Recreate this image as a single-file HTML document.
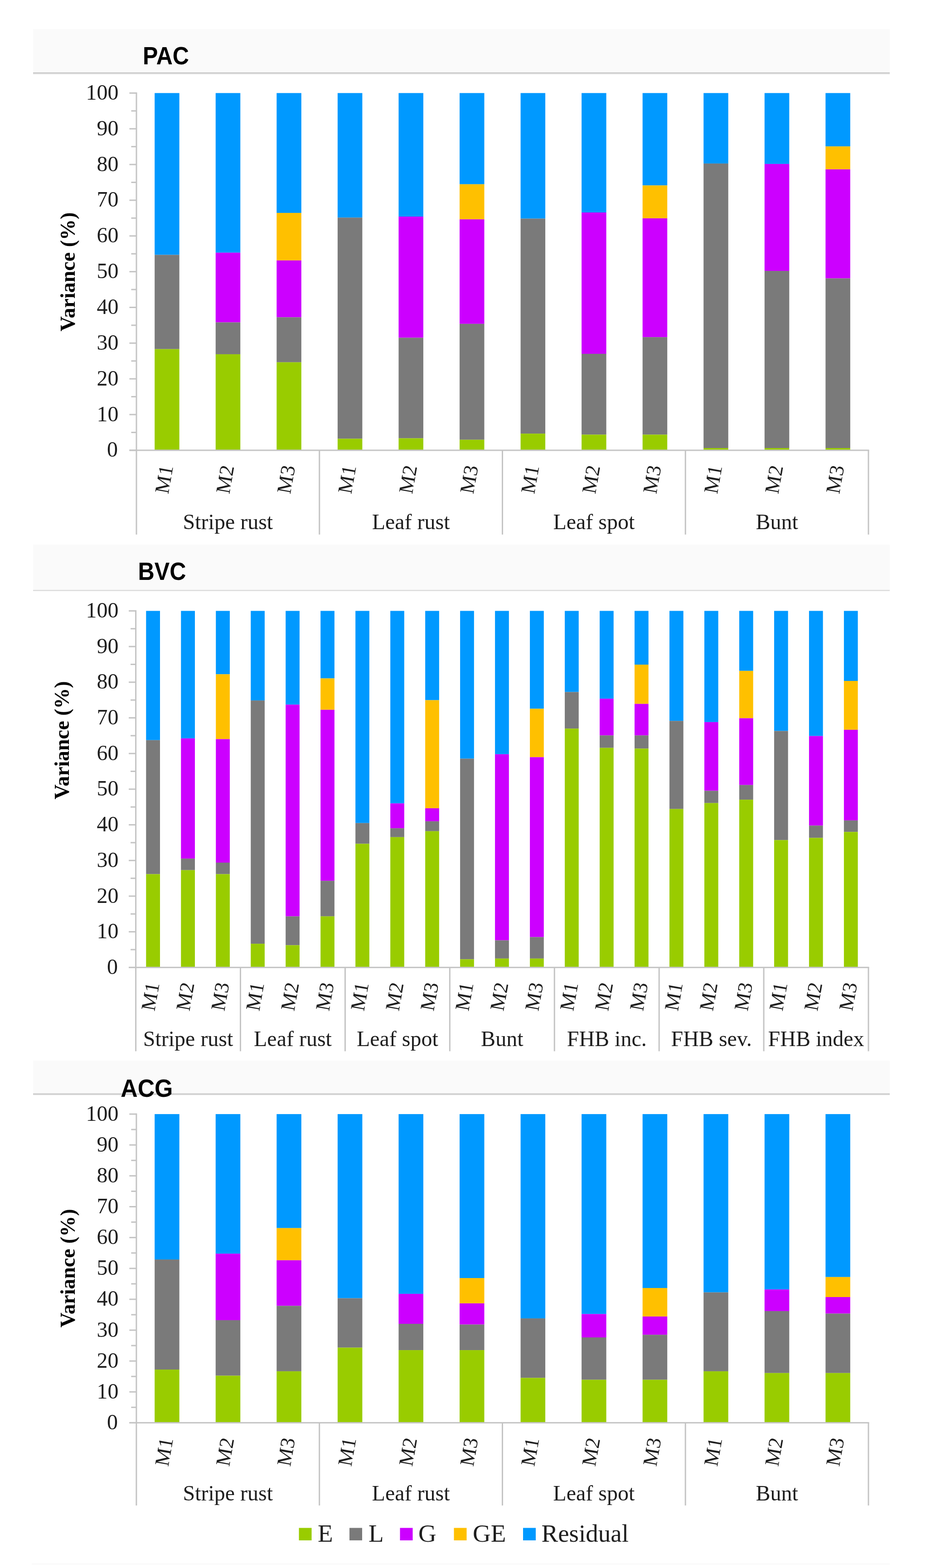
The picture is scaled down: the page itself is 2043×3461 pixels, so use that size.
<!DOCTYPE html>
<html><head><meta charset="utf-8"><title>Variance components</title>
<style>html,body{margin:0;padding:0;background:#fff;}svg{display:block;}</style></head>
<body><svg width="2043" height="3461" viewBox="0 0 2043 3461">
<rect width="2043" height="3461" fill="#FFFFFF"/>
<rect x="73" y="64.3" width="1890" height="97" fill="#FAFAFA"/>
<rect x="73" y="159.8" width="1890" height="2" fill="#C2C2C2"/>
<rect x="73" y="161.8" width="1890" height="2" fill="#DCDCDC"/>
<text x="315" y="142" font-family="Liberation Sans, sans-serif" font-weight="bold" font-size="55.5" textLength="102" lengthAdjust="spacingAndGlyphs" fill="#000">PAC</text>
<rect x="341.2" y="205.4" width="54.5" height="357.15" fill="#0099FF"/>
<rect x="341.2" y="562.55" width="54.5" height="208.09" fill="#7A7A7A"/>
<rect x="341.2" y="770.64" width="54.5" height="223.26" fill="#99CC00"/>
<rect x="475.76" y="205.4" width="54.5" height="352.31" fill="#0099FF"/>
<rect x="475.76" y="557.71" width="54.5" height="153.89" fill="#CC00FF"/>
<rect x="475.76" y="711.6" width="54.5" height="70.33" fill="#7A7A7A"/>
<rect x="475.76" y="781.93" width="54.5" height="211.97" fill="#99CC00"/>
<rect x="610.32" y="205.4" width="54.5" height="264.55" fill="#0099FF"/>
<rect x="610.32" y="469.95" width="54.5" height="104.85" fill="#FFC000"/>
<rect x="610.32" y="574.81" width="54.5" height="125.5" fill="#CC00FF"/>
<rect x="610.32" y="700.31" width="54.5" height="99.37" fill="#7A7A7A"/>
<rect x="610.32" y="799.68" width="54.5" height="194.22" fill="#99CC00"/>
<rect x="744.88" y="205.4" width="54.5" height="274.88" fill="#0099FF"/>
<rect x="744.88" y="480.28" width="54.5" height="488.13" fill="#7A7A7A"/>
<rect x="744.88" y="968.41" width="54.5" height="25.49" fill="#99CC00"/>
<rect x="879.44" y="205.4" width="54.5" height="272.62" fill="#0099FF"/>
<rect x="879.44" y="478.02" width="54.5" height="267.46" fill="#CC00FF"/>
<rect x="879.44" y="745.48" width="54.5" height="221.97" fill="#7A7A7A"/>
<rect x="879.44" y="967.44" width="54.5" height="26.46" fill="#99CC00"/>
<rect x="1014" y="205.4" width="54.5" height="201.32" fill="#0099FF"/>
<rect x="1014" y="406.72" width="54.5" height="77.43" fill="#FFC000"/>
<rect x="1014" y="484.15" width="54.5" height="230.68" fill="#CC00FF"/>
<rect x="1014" y="714.83" width="54.5" height="255.84" fill="#7A7A7A"/>
<rect x="1014" y="970.67" width="54.5" height="23.23" fill="#99CC00"/>
<rect x="1148.56" y="205.4" width="54.5" height="277.14" fill="#0099FF"/>
<rect x="1148.56" y="482.54" width="54.5" height="474.58" fill="#7A7A7A"/>
<rect x="1148.56" y="957.12" width="54.5" height="36.78" fill="#99CC00"/>
<rect x="1283.12" y="205.4" width="54.5" height="263.59" fill="#0099FF"/>
<rect x="1283.12" y="468.99" width="54.5" height="311.98" fill="#CC00FF"/>
<rect x="1283.12" y="780.97" width="54.5" height="178.41" fill="#7A7A7A"/>
<rect x="1283.12" y="959.38" width="54.5" height="34.52" fill="#99CC00"/>
<rect x="1417.68" y="205.4" width="54.5" height="203.9" fill="#0099FF"/>
<rect x="1417.68" y="409.3" width="54.5" height="72.59" fill="#FFC000"/>
<rect x="1417.68" y="481.89" width="54.5" height="262.3" fill="#CC00FF"/>
<rect x="1417.68" y="744.19" width="54.5" height="215.19" fill="#7A7A7A"/>
<rect x="1417.68" y="959.38" width="54.5" height="34.52" fill="#99CC00"/>
<rect x="1552.24" y="205.4" width="54.5" height="155.51" fill="#0099FF"/>
<rect x="1552.24" y="360.91" width="54.5" height="628.15" fill="#7A7A7A"/>
<rect x="1552.24" y="989.06" width="54.5" height="4.84" fill="#99CC00"/>
<rect x="1686.8" y="205.4" width="54.5" height="156.47" fill="#0099FF"/>
<rect x="1686.8" y="361.87" width="54.5" height="236.16" fill="#CC00FF"/>
<rect x="1686.8" y="598.04" width="54.5" height="391.02" fill="#7A7A7A"/>
<rect x="1686.8" y="989.06" width="54.5" height="4.84" fill="#99CC00"/>
<rect x="1821.36" y="205.4" width="54.5" height="117.76" fill="#0099FF"/>
<rect x="1821.36" y="323.16" width="54.5" height="50.65" fill="#FFC000"/>
<rect x="1821.36" y="373.81" width="54.5" height="240.68" fill="#CC00FF"/>
<rect x="1821.36" y="614.49" width="54.5" height="374.57" fill="#7A7A7A"/>
<rect x="1821.36" y="989.06" width="54.5" height="4.84" fill="#99CC00"/>
<rect x="285.5" y="992.4" width="15.5" height="3" fill="#C4C4C4"/>
<text x="260" y="1008.4" text-anchor="end" font-family="Liberation Serif, serif" font-size="48" fill="#1E1E1E">0</text>
<rect x="289.5" y="952.98" width="11.5" height="3" fill="#C4C4C4"/>
<rect x="285.5" y="913.55" width="15.5" height="3" fill="#C4C4C4"/>
<text x="261.5" y="929.55" text-anchor="end" font-family="Liberation Serif, serif" font-size="48" fill="#1E1E1E">10</text>
<rect x="289.5" y="874.12" width="11.5" height="3" fill="#C4C4C4"/>
<rect x="285.5" y="834.7" width="15.5" height="3" fill="#C4C4C4"/>
<text x="261.5" y="850.7" text-anchor="end" font-family="Liberation Serif, serif" font-size="48" fill="#1E1E1E">20</text>
<rect x="289.5" y="795.27" width="11.5" height="3" fill="#C4C4C4"/>
<rect x="285.5" y="755.85" width="15.5" height="3" fill="#C4C4C4"/>
<text x="261.5" y="771.85" text-anchor="end" font-family="Liberation Serif, serif" font-size="48" fill="#1E1E1E">30</text>
<rect x="289.5" y="716.42" width="11.5" height="3" fill="#C4C4C4"/>
<rect x="285.5" y="677" width="15.5" height="3" fill="#C4C4C4"/>
<text x="261.5" y="693" text-anchor="end" font-family="Liberation Serif, serif" font-size="48" fill="#1E1E1E">40</text>
<rect x="289.5" y="637.58" width="11.5" height="3" fill="#C4C4C4"/>
<rect x="285.5" y="598.15" width="15.5" height="3" fill="#C4C4C4"/>
<text x="261.5" y="614.15" text-anchor="end" font-family="Liberation Serif, serif" font-size="48" fill="#1E1E1E">50</text>
<rect x="289.5" y="558.72" width="11.5" height="3" fill="#C4C4C4"/>
<rect x="285.5" y="519.3" width="15.5" height="3" fill="#C4C4C4"/>
<text x="261.5" y="535.3" text-anchor="end" font-family="Liberation Serif, serif" font-size="48" fill="#1E1E1E">60</text>
<rect x="289.5" y="479.88" width="11.5" height="3" fill="#C4C4C4"/>
<rect x="285.5" y="440.45" width="15.5" height="3" fill="#C4C4C4"/>
<text x="261.5" y="456.45" text-anchor="end" font-family="Liberation Serif, serif" font-size="48" fill="#1E1E1E">70</text>
<rect x="289.5" y="401.02" width="11.5" height="3" fill="#C4C4C4"/>
<rect x="285.5" y="361.6" width="15.5" height="3" fill="#C4C4C4"/>
<text x="261.5" y="377.6" text-anchor="end" font-family="Liberation Serif, serif" font-size="48" fill="#1E1E1E">80</text>
<rect x="289.5" y="322.17" width="11.5" height="3" fill="#C4C4C4"/>
<rect x="285.5" y="282.75" width="15.5" height="3" fill="#C4C4C4"/>
<text x="261.5" y="298.75" text-anchor="end" font-family="Liberation Serif, serif" font-size="48" fill="#1E1E1E">90</text>
<rect x="289.5" y="243.32" width="11.5" height="3" fill="#C4C4C4"/>
<rect x="285.5" y="203.9" width="15.5" height="3" fill="#C4C4C4"/>
<text x="261.5" y="219.9" text-anchor="end" font-family="Liberation Serif, serif" font-size="48" fill="#1E1E1E">100</text>
<rect x="299.5" y="203.9" width="3" height="976" fill="#C4C4C4"/>
<rect x="285.5" y="992.4" width="1632" height="3" fill="#C4C4C4"/>
<rect x="703.25" y="993.9" width="3" height="186" fill="#C4C4C4"/>
<rect x="1107" y="993.9" width="3" height="186" fill="#C4C4C4"/>
<rect x="1510.75" y="993.9" width="3" height="186" fill="#C4C4C4"/>
<rect x="1914.5" y="993.9" width="3" height="186" fill="#C4C4C4"/>
<text transform="translate(371.29,1091.4) rotate(-80)" font-family="Liberation Serif, serif" font-size="45" fill="#1E1E1E">M1</text>
<text transform="translate(505.88,1091.4) rotate(-80)" font-family="Liberation Serif, serif" font-size="45" fill="#1E1E1E">M2</text>
<text transform="translate(640.46,1091.4) rotate(-80)" font-family="Liberation Serif, serif" font-size="45" fill="#1E1E1E">M3</text>
<text transform="translate(775.04,1091.4) rotate(-80)" font-family="Liberation Serif, serif" font-size="45" fill="#1E1E1E">M1</text>
<text transform="translate(909.62,1091.4) rotate(-80)" font-family="Liberation Serif, serif" font-size="45" fill="#1E1E1E">M2</text>
<text transform="translate(1044.21,1091.4) rotate(-80)" font-family="Liberation Serif, serif" font-size="45" fill="#1E1E1E">M3</text>
<text transform="translate(1178.79,1091.4) rotate(-80)" font-family="Liberation Serif, serif" font-size="45" fill="#1E1E1E">M1</text>
<text transform="translate(1313.38,1091.4) rotate(-80)" font-family="Liberation Serif, serif" font-size="45" fill="#1E1E1E">M2</text>
<text transform="translate(1447.96,1091.4) rotate(-80)" font-family="Liberation Serif, serif" font-size="45" fill="#1E1E1E">M3</text>
<text transform="translate(1582.54,1091.4) rotate(-80)" font-family="Liberation Serif, serif" font-size="45" fill="#1E1E1E">M1</text>
<text transform="translate(1717.12,1091.4) rotate(-80)" font-family="Liberation Serif, serif" font-size="45" fill="#1E1E1E">M2</text>
<text transform="translate(1851.71,1091.4) rotate(-80)" font-family="Liberation Serif, serif" font-size="45" fill="#1E1E1E">M3</text>
<text x="502.88" y="1168.1" text-anchor="middle" font-family="Liberation Serif, serif" font-size="48" fill="#1E1E1E">Stripe rust</text>
<text x="906.62" y="1168.1" text-anchor="middle" font-family="Liberation Serif, serif" font-size="48" fill="#1E1E1E">Leaf rust</text>
<text x="1310.38" y="1168.1" text-anchor="middle" font-family="Liberation Serif, serif" font-size="48" fill="#1E1E1E">Leaf spot</text>
<text x="1714.12" y="1168.1" text-anchor="middle" font-family="Liberation Serif, serif" font-size="48" fill="#1E1E1E">Bunt</text>
<text transform="translate(165,731.5) rotate(-90)" font-family="Liberation Serif, serif" font-weight="bold" font-size="47" textLength="262.9" lengthAdjust="spacingAndGlyphs" fill="#000">Variance (%)</text>
<rect x="73" y="1202.3" width="1890" height="101" fill="#FAFAFA"/>
<rect x="73" y="1302.1" width="1890" height="2.4" fill="#DADADA"/>
<text x="304.5" y="1280" font-family="Liberation Sans, sans-serif" font-weight="bold" font-size="55.5" textLength="106" lengthAdjust="spacingAndGlyphs" fill="#000">BVC</text>
<rect x="322.3" y="1348.4" width="30.7" height="285.32" fill="#0099FF"/>
<rect x="322.3" y="1633.72" width="30.7" height="295.78" fill="#7A7A7A"/>
<rect x="322.3" y="1929.5" width="30.7" height="205.9" fill="#99CC00"/>
<rect x="399.28" y="1348.4" width="30.7" height="281.4" fill="#0099FF"/>
<rect x="399.28" y="1629.8" width="30.7" height="265.38" fill="#CC00FF"/>
<rect x="399.28" y="1895.18" width="30.7" height="25.49" fill="#7A7A7A"/>
<rect x="399.28" y="1920.67" width="30.7" height="214.73" fill="#99CC00"/>
<rect x="476.26" y="1348.4" width="30.7" height="139.88" fill="#0099FF"/>
<rect x="476.26" y="1488.28" width="30.7" height="143.15" fill="#FFC000"/>
<rect x="476.26" y="1631.43" width="30.7" height="272.57" fill="#CC00FF"/>
<rect x="476.26" y="1904.01" width="30.7" height="25.49" fill="#7A7A7A"/>
<rect x="476.26" y="1929.5" width="30.7" height="205.9" fill="#99CC00"/>
<rect x="553.24" y="1348.4" width="30.7" height="197.73" fill="#0099FF"/>
<rect x="553.24" y="1546.13" width="30.7" height="536.98" fill="#7A7A7A"/>
<rect x="553.24" y="2083.11" width="30.7" height="52.29" fill="#99CC00"/>
<rect x="630.22" y="1348.4" width="30.7" height="206.88" fill="#0099FF"/>
<rect x="630.22" y="1555.28" width="30.7" height="467.36" fill="#CC00FF"/>
<rect x="630.22" y="2022.64" width="30.7" height="63.73" fill="#7A7A7A"/>
<rect x="630.22" y="2086.38" width="30.7" height="49.02" fill="#99CC00"/>
<rect x="707.2" y="1348.4" width="30.7" height="149.03" fill="#0099FF"/>
<rect x="707.2" y="1497.43" width="30.7" height="69.29" fill="#FFC000"/>
<rect x="707.2" y="1566.72" width="30.7" height="377.49" fill="#CC00FF"/>
<rect x="707.2" y="1944.21" width="30.7" height="78.44" fill="#7A7A7A"/>
<rect x="707.2" y="2022.64" width="30.7" height="112.76" fill="#99CC00"/>
<rect x="784.18" y="1348.4" width="30.7" height="468.34" fill="#0099FF"/>
<rect x="784.18" y="1816.74" width="30.7" height="45.76" fill="#7A7A7A"/>
<rect x="784.18" y="1862.5" width="30.7" height="272.9" fill="#99CC00"/>
<rect x="861.16" y="1348.4" width="30.7" height="424.88" fill="#0099FF"/>
<rect x="861.16" y="1773.28" width="30.7" height="54.91" fill="#CC00FF"/>
<rect x="861.16" y="1828.18" width="30.7" height="19.61" fill="#7A7A7A"/>
<rect x="861.16" y="1847.79" width="30.7" height="287.61" fill="#99CC00"/>
<rect x="938.14" y="1348.4" width="30.7" height="197.08" fill="#0099FF"/>
<rect x="938.14" y="1545.48" width="30.7" height="238.58" fill="#FFC000"/>
<rect x="938.14" y="1784.06" width="30.7" height="28.76" fill="#CC00FF"/>
<rect x="938.14" y="1812.82" width="30.7" height="21.9" fill="#7A7A7A"/>
<rect x="938.14" y="1834.72" width="30.7" height="300.68" fill="#99CC00"/>
<rect x="1015.12" y="1348.4" width="30.7" height="326.17" fill="#0099FF"/>
<rect x="1015.12" y="1674.57" width="30.7" height="442.85" fill="#7A7A7A"/>
<rect x="1015.12" y="2117.42" width="30.7" height="17.98" fill="#99CC00"/>
<rect x="1092.1" y="1348.4" width="30.7" height="316.37" fill="#0099FF"/>
<rect x="1092.1" y="1664.77" width="30.7" height="410.82" fill="#CC00FF"/>
<rect x="1092.1" y="2075.59" width="30.7" height="40.2" fill="#7A7A7A"/>
<rect x="1092.1" y="2115.79" width="30.7" height="19.61" fill="#99CC00"/>
<rect x="1169.08" y="1348.4" width="30.7" height="216.03" fill="#0099FF"/>
<rect x="1169.08" y="1564.43" width="30.7" height="106.87" fill="#FFC000"/>
<rect x="1169.08" y="1671.31" width="30.7" height="397.1" fill="#CC00FF"/>
<rect x="1169.08" y="2068.4" width="30.7" height="47.39" fill="#7A7A7A"/>
<rect x="1169.08" y="2115.79" width="30.7" height="19.61" fill="#99CC00"/>
<rect x="1246.06" y="1348.4" width="30.7" height="179.1" fill="#0099FF"/>
<rect x="1246.06" y="1527.5" width="30.7" height="80.73" fill="#7A7A7A"/>
<rect x="1246.06" y="1608.23" width="30.7" height="527.17" fill="#99CC00"/>
<rect x="1323.04" y="1348.4" width="30.7" height="193.81" fill="#0099FF"/>
<rect x="1323.04" y="1542.21" width="30.7" height="81.05" fill="#CC00FF"/>
<rect x="1323.04" y="1623.26" width="30.7" height="27.45" fill="#7A7A7A"/>
<rect x="1323.04" y="1650.72" width="30.7" height="484.68" fill="#99CC00"/>
<rect x="1400.02" y="1348.4" width="30.7" height="118.64" fill="#0099FF"/>
<rect x="1400.02" y="1467.04" width="30.7" height="86.61" fill="#FFC000"/>
<rect x="1400.02" y="1553.65" width="30.7" height="69.61" fill="#CC00FF"/>
<rect x="1400.02" y="1623.26" width="30.7" height="29.09" fill="#7A7A7A"/>
<rect x="1400.02" y="1652.35" width="30.7" height="483.05" fill="#99CC00"/>
<rect x="1477" y="1348.4" width="30.7" height="242.83" fill="#0099FF"/>
<rect x="1477" y="1591.23" width="30.7" height="194.46" fill="#7A7A7A"/>
<rect x="1477" y="1785.69" width="30.7" height="349.71" fill="#99CC00"/>
<rect x="1553.98" y="1348.4" width="30.7" height="245.45" fill="#0099FF"/>
<rect x="1553.98" y="1593.85" width="30.7" height="151.65" fill="#CC00FF"/>
<rect x="1553.98" y="1745.5" width="30.7" height="27.13" fill="#7A7A7A"/>
<rect x="1553.98" y="1772.62" width="30.7" height="362.78" fill="#99CC00"/>
<rect x="1630.96" y="1348.4" width="30.7" height="132.37" fill="#0099FF"/>
<rect x="1630.96" y="1480.77" width="30.7" height="104.58" fill="#FFC000"/>
<rect x="1630.96" y="1585.35" width="30.7" height="147.4" fill="#CC00FF"/>
<rect x="1630.96" y="1732.75" width="30.7" height="32.36" fill="#7A7A7A"/>
<rect x="1630.96" y="1765.1" width="30.7" height="370.3" fill="#99CC00"/>
<rect x="1707.94" y="1348.4" width="30.7" height="265.06" fill="#0099FF"/>
<rect x="1707.94" y="1613.46" width="30.7" height="240.87" fill="#7A7A7A"/>
<rect x="1707.94" y="1854.33" width="30.7" height="281.07" fill="#99CC00"/>
<rect x="1784.92" y="1348.4" width="30.7" height="276.17" fill="#0099FF"/>
<rect x="1784.92" y="1624.57" width="30.7" height="197.73" fill="#CC00FF"/>
<rect x="1784.92" y="1822.3" width="30.7" height="27.13" fill="#7A7A7A"/>
<rect x="1784.92" y="1849.43" width="30.7" height="285.97" fill="#99CC00"/>
<rect x="1861.9" y="1348.4" width="30.7" height="154.59" fill="#0099FF"/>
<rect x="1861.9" y="1502.99" width="30.7" height="107.85" fill="#FFC000"/>
<rect x="1861.9" y="1610.84" width="30.7" height="200.02" fill="#CC00FF"/>
<rect x="1861.9" y="1810.86" width="30.7" height="25.49" fill="#7A7A7A"/>
<rect x="1861.9" y="1836.35" width="30.7" height="299.05" fill="#99CC00"/>
<rect x="284.1" y="2133.9" width="15.5" height="3" fill="#C4C4C4"/>
<text x="260" y="2149.9" text-anchor="end" font-family="Liberation Serif, serif" font-size="48" fill="#1E1E1E">0</text>
<rect x="288.1" y="2094.55" width="11.5" height="3" fill="#C4C4C4"/>
<rect x="284.1" y="2055.2" width="15.5" height="3" fill="#C4C4C4"/>
<text x="261.5" y="2071.2" text-anchor="end" font-family="Liberation Serif, serif" font-size="48" fill="#1E1E1E">10</text>
<rect x="288.1" y="2015.85" width="11.5" height="3" fill="#C4C4C4"/>
<rect x="284.1" y="1976.5" width="15.5" height="3" fill="#C4C4C4"/>
<text x="261.5" y="1992.5" text-anchor="end" font-family="Liberation Serif, serif" font-size="48" fill="#1E1E1E">20</text>
<rect x="288.1" y="1937.15" width="11.5" height="3" fill="#C4C4C4"/>
<rect x="284.1" y="1897.8" width="15.5" height="3" fill="#C4C4C4"/>
<text x="261.5" y="1913.8" text-anchor="end" font-family="Liberation Serif, serif" font-size="48" fill="#1E1E1E">30</text>
<rect x="288.1" y="1858.45" width="11.5" height="3" fill="#C4C4C4"/>
<rect x="284.1" y="1819.1" width="15.5" height="3" fill="#C4C4C4"/>
<text x="261.5" y="1835.1" text-anchor="end" font-family="Liberation Serif, serif" font-size="48" fill="#1E1E1E">40</text>
<rect x="288.1" y="1779.75" width="11.5" height="3" fill="#C4C4C4"/>
<rect x="284.1" y="1740.4" width="15.5" height="3" fill="#C4C4C4"/>
<text x="261.5" y="1756.4" text-anchor="end" font-family="Liberation Serif, serif" font-size="48" fill="#1E1E1E">50</text>
<rect x="288.1" y="1701.05" width="11.5" height="3" fill="#C4C4C4"/>
<rect x="284.1" y="1661.7" width="15.5" height="3" fill="#C4C4C4"/>
<text x="261.5" y="1677.7" text-anchor="end" font-family="Liberation Serif, serif" font-size="48" fill="#1E1E1E">60</text>
<rect x="288.1" y="1622.35" width="11.5" height="3" fill="#C4C4C4"/>
<rect x="284.1" y="1583" width="15.5" height="3" fill="#C4C4C4"/>
<text x="261.5" y="1599" text-anchor="end" font-family="Liberation Serif, serif" font-size="48" fill="#1E1E1E">70</text>
<rect x="288.1" y="1543.65" width="11.5" height="3" fill="#C4C4C4"/>
<rect x="284.1" y="1504.3" width="15.5" height="3" fill="#C4C4C4"/>
<text x="261.5" y="1520.3" text-anchor="end" font-family="Liberation Serif, serif" font-size="48" fill="#1E1E1E">80</text>
<rect x="288.1" y="1464.95" width="11.5" height="3" fill="#C4C4C4"/>
<rect x="284.1" y="1425.6" width="15.5" height="3" fill="#C4C4C4"/>
<text x="261.5" y="1441.6" text-anchor="end" font-family="Liberation Serif, serif" font-size="48" fill="#1E1E1E">90</text>
<rect x="288.1" y="1386.25" width="11.5" height="3" fill="#C4C4C4"/>
<rect x="284.1" y="1346.9" width="15.5" height="3" fill="#C4C4C4"/>
<text x="261.5" y="1362.9" text-anchor="end" font-family="Liberation Serif, serif" font-size="48" fill="#1E1E1E">100</text>
<rect x="298.1" y="1346.9" width="3" height="973.5" fill="#C4C4C4"/>
<rect x="284.1" y="2133.9" width="1633.4" height="3" fill="#C4C4C4"/>
<rect x="529.01" y="2135.4" width="3" height="185" fill="#C4C4C4"/>
<rect x="759.93" y="2135.4" width="3" height="185" fill="#C4C4C4"/>
<rect x="990.84" y="2135.4" width="3" height="185" fill="#C4C4C4"/>
<rect x="1221.76" y="2135.4" width="3" height="185" fill="#C4C4C4"/>
<rect x="1452.67" y="2135.4" width="3" height="185" fill="#C4C4C4"/>
<rect x="1683.59" y="2135.4" width="3" height="185" fill="#C4C4C4"/>
<rect x="1914.5" y="2135.4" width="3" height="185" fill="#C4C4C4"/>
<text transform="translate(341.09,2232.9) rotate(-80)" font-family="Liberation Serif, serif" font-size="45" fill="#1E1E1E">M1</text>
<text transform="translate(418.06,2232.9) rotate(-80)" font-family="Liberation Serif, serif" font-size="45" fill="#1E1E1E">M2</text>
<text transform="translate(495.03,2232.9) rotate(-80)" font-family="Liberation Serif, serif" font-size="45" fill="#1E1E1E">M3</text>
<text transform="translate(572,2232.9) rotate(-80)" font-family="Liberation Serif, serif" font-size="45" fill="#1E1E1E">M1</text>
<text transform="translate(648.97,2232.9) rotate(-80)" font-family="Liberation Serif, serif" font-size="45" fill="#1E1E1E">M2</text>
<text transform="translate(725.94,2232.9) rotate(-80)" font-family="Liberation Serif, serif" font-size="45" fill="#1E1E1E">M3</text>
<text transform="translate(802.91,2232.9) rotate(-80)" font-family="Liberation Serif, serif" font-size="45" fill="#1E1E1E">M1</text>
<text transform="translate(879.89,2232.9) rotate(-80)" font-family="Liberation Serif, serif" font-size="45" fill="#1E1E1E">M2</text>
<text transform="translate(956.86,2232.9) rotate(-80)" font-family="Liberation Serif, serif" font-size="45" fill="#1E1E1E">M3</text>
<text transform="translate(1033.83,2232.9) rotate(-80)" font-family="Liberation Serif, serif" font-size="45" fill="#1E1E1E">M1</text>
<text transform="translate(1110.8,2232.9) rotate(-80)" font-family="Liberation Serif, serif" font-size="45" fill="#1E1E1E">M2</text>
<text transform="translate(1187.77,2232.9) rotate(-80)" font-family="Liberation Serif, serif" font-size="45" fill="#1E1E1E">M3</text>
<text transform="translate(1264.74,2232.9) rotate(-80)" font-family="Liberation Serif, serif" font-size="45" fill="#1E1E1E">M1</text>
<text transform="translate(1341.71,2232.9) rotate(-80)" font-family="Liberation Serif, serif" font-size="45" fill="#1E1E1E">M2</text>
<text transform="translate(1418.69,2232.9) rotate(-80)" font-family="Liberation Serif, serif" font-size="45" fill="#1E1E1E">M3</text>
<text transform="translate(1495.66,2232.9) rotate(-80)" font-family="Liberation Serif, serif" font-size="45" fill="#1E1E1E">M1</text>
<text transform="translate(1572.63,2232.9) rotate(-80)" font-family="Liberation Serif, serif" font-size="45" fill="#1E1E1E">M2</text>
<text transform="translate(1649.6,2232.9) rotate(-80)" font-family="Liberation Serif, serif" font-size="45" fill="#1E1E1E">M3</text>
<text transform="translate(1726.57,2232.9) rotate(-80)" font-family="Liberation Serif, serif" font-size="45" fill="#1E1E1E">M1</text>
<text transform="translate(1803.54,2232.9) rotate(-80)" font-family="Liberation Serif, serif" font-size="45" fill="#1E1E1E">M2</text>
<text transform="translate(1880.51,2232.9) rotate(-80)" font-family="Liberation Serif, serif" font-size="45" fill="#1E1E1E">M3</text>
<text x="415.06" y="2308.7" text-anchor="middle" font-family="Liberation Serif, serif" font-size="48" fill="#1E1E1E">Stripe rust</text>
<text x="645.97" y="2308.7" text-anchor="middle" font-family="Liberation Serif, serif" font-size="48" fill="#1E1E1E">Leaf rust</text>
<text x="876.89" y="2308.7" text-anchor="middle" font-family="Liberation Serif, serif" font-size="48" fill="#1E1E1E">Leaf spot</text>
<text x="1107.8" y="2308.7" text-anchor="middle" font-family="Liberation Serif, serif" font-size="48" fill="#1E1E1E">Bunt</text>
<text x="1338.71" y="2308.7" text-anchor="middle" font-family="Liberation Serif, serif" font-size="48" fill="#1E1E1E">FHB inc.</text>
<text x="1569.63" y="2308.7" text-anchor="middle" font-family="Liberation Serif, serif" font-size="48" fill="#1E1E1E">FHB sev.</text>
<text x="1800.54" y="2308.7" text-anchor="middle" font-family="Liberation Serif, serif" font-size="48" fill="#1E1E1E">FHB index</text>
<text transform="translate(151.6,1764.5) rotate(-90)" font-family="Liberation Serif, serif" font-weight="bold" font-size="47" textLength="261" lengthAdjust="spacingAndGlyphs" fill="#000">Variance (%)</text>
<rect x="73" y="2341.2" width="1890" height="73.8" fill="#FAFAFA"/>
<rect x="73" y="2413" width="1890" height="4" fill="#D3D3D3"/>
<text x="266.3" y="2421.3" font-family="Liberation Sans, sans-serif" font-weight="bold" font-size="55.5" textLength="115.1" lengthAdjust="spacingAndGlyphs" fill="#000">ACG</text>
<rect x="341.2" y="2459.1" width="54.5" height="320.97" fill="#0099FF"/>
<rect x="341.2" y="2780.07" width="54.5" height="242.91" fill="#7A7A7A"/>
<rect x="341.2" y="3022.98" width="54.5" height="117.42" fill="#99CC00"/>
<rect x="475.76" y="2459.1" width="54.5" height="308.07" fill="#0099FF"/>
<rect x="475.76" y="2767.17" width="54.5" height="146.78" fill="#CC00FF"/>
<rect x="475.76" y="2913.95" width="54.5" height="122.58" fill="#7A7A7A"/>
<rect x="475.76" y="3036.53" width="54.5" height="103.87" fill="#99CC00"/>
<rect x="610.32" y="2459.1" width="54.5" height="251.62" fill="#0099FF"/>
<rect x="610.32" y="2710.72" width="54.5" height="70.97" fill="#FFC000"/>
<rect x="610.32" y="2781.69" width="54.5" height="100.65" fill="#CC00FF"/>
<rect x="610.32" y="2882.33" width="54.5" height="144.52" fill="#7A7A7A"/>
<rect x="610.32" y="3026.85" width="54.5" height="113.55" fill="#99CC00"/>
<rect x="744.88" y="2459.1" width="54.5" height="406.46" fill="#0099FF"/>
<rect x="744.88" y="2865.56" width="54.5" height="109.03" fill="#7A7A7A"/>
<rect x="744.88" y="2974.59" width="54.5" height="165.81" fill="#99CC00"/>
<rect x="879.44" y="2459.1" width="54.5" height="396.78" fill="#0099FF"/>
<rect x="879.44" y="2855.88" width="54.5" height="66.13" fill="#CC00FF"/>
<rect x="879.44" y="2922.01" width="54.5" height="58.07" fill="#7A7A7A"/>
<rect x="879.44" y="2980.08" width="54.5" height="160.32" fill="#99CC00"/>
<rect x="1014" y="2459.1" width="54.5" height="361.94" fill="#0099FF"/>
<rect x="1014" y="2821.04" width="54.5" height="55.81" fill="#FFC000"/>
<rect x="1014" y="2876.85" width="54.5" height="46.77" fill="#CC00FF"/>
<rect x="1014" y="2923.62" width="54.5" height="56.45" fill="#7A7A7A"/>
<rect x="1014" y="2980.08" width="54.5" height="160.32" fill="#99CC00"/>
<rect x="1148.56" y="2459.1" width="54.5" height="450.97" fill="#0099FF"/>
<rect x="1148.56" y="2910.07" width="54.5" height="131.29" fill="#7A7A7A"/>
<rect x="1148.56" y="3041.37" width="54.5" height="99.03" fill="#99CC00"/>
<rect x="1283.12" y="2459.1" width="54.5" height="441.3" fill="#0099FF"/>
<rect x="1283.12" y="2900.4" width="54.5" height="51.61" fill="#CC00FF"/>
<rect x="1283.12" y="2952.01" width="54.5" height="93.55" fill="#7A7A7A"/>
<rect x="1283.12" y="3045.56" width="54.5" height="94.84" fill="#99CC00"/>
<rect x="1417.68" y="2459.1" width="54.5" height="383.88" fill="#0099FF"/>
<rect x="1417.68" y="2842.98" width="54.5" height="62.9" fill="#FFC000"/>
<rect x="1417.68" y="2905.88" width="54.5" height="40.32" fill="#CC00FF"/>
<rect x="1417.68" y="2946.2" width="54.5" height="99.36" fill="#7A7A7A"/>
<rect x="1417.68" y="3045.56" width="54.5" height="94.84" fill="#99CC00"/>
<rect x="1552.24" y="2459.1" width="54.5" height="393.55" fill="#0099FF"/>
<rect x="1552.24" y="2852.65" width="54.5" height="174.2" fill="#7A7A7A"/>
<rect x="1552.24" y="3026.85" width="54.5" height="113.55" fill="#99CC00"/>
<rect x="1686.8" y="2459.1" width="54.5" height="387.1" fill="#0099FF"/>
<rect x="1686.8" y="2846.2" width="54.5" height="47.74" fill="#CC00FF"/>
<rect x="1686.8" y="2893.94" width="54.5" height="136.78" fill="#7A7A7A"/>
<rect x="1686.8" y="3030.72" width="54.5" height="109.68" fill="#99CC00"/>
<rect x="1821.36" y="2459.1" width="54.5" height="359.68" fill="#0099FF"/>
<rect x="1821.36" y="2818.78" width="54.5" height="44.19" fill="#FFC000"/>
<rect x="1821.36" y="2862.98" width="54.5" height="36.45" fill="#CC00FF"/>
<rect x="1821.36" y="2899.43" width="54.5" height="131.29" fill="#7A7A7A"/>
<rect x="1821.36" y="3030.72" width="54.5" height="109.68" fill="#99CC00"/>
<rect x="285.4" y="3138.9" width="15.5" height="3" fill="#C4C4C4"/>
<text x="260" y="3154.9" text-anchor="end" font-family="Liberation Serif, serif" font-size="48" fill="#1E1E1E">0</text>
<rect x="289.4" y="3104.84" width="11.5" height="3" fill="#C4C4C4"/>
<rect x="285.4" y="3070.77" width="15.5" height="3" fill="#C4C4C4"/>
<text x="261.5" y="3086.77" text-anchor="end" font-family="Liberation Serif, serif" font-size="48" fill="#1E1E1E">10</text>
<rect x="289.4" y="3036.7" width="11.5" height="3" fill="#C4C4C4"/>
<rect x="285.4" y="3002.64" width="15.5" height="3" fill="#C4C4C4"/>
<text x="261.5" y="3018.64" text-anchor="end" font-family="Liberation Serif, serif" font-size="48" fill="#1E1E1E">20</text>
<rect x="289.4" y="2968.57" width="11.5" height="3" fill="#C4C4C4"/>
<rect x="285.4" y="2934.51" width="15.5" height="3" fill="#C4C4C4"/>
<text x="261.5" y="2950.51" text-anchor="end" font-family="Liberation Serif, serif" font-size="48" fill="#1E1E1E">30</text>
<rect x="289.4" y="2900.45" width="11.5" height="3" fill="#C4C4C4"/>
<rect x="285.4" y="2866.38" width="15.5" height="3" fill="#C4C4C4"/>
<text x="261.5" y="2882.38" text-anchor="end" font-family="Liberation Serif, serif" font-size="48" fill="#1E1E1E">40</text>
<rect x="289.4" y="2832.32" width="11.5" height="3" fill="#C4C4C4"/>
<rect x="285.4" y="2798.25" width="15.5" height="3" fill="#C4C4C4"/>
<text x="261.5" y="2814.25" text-anchor="end" font-family="Liberation Serif, serif" font-size="48" fill="#1E1E1E">50</text>
<rect x="289.4" y="2764.18" width="11.5" height="3" fill="#C4C4C4"/>
<rect x="285.4" y="2730.12" width="15.5" height="3" fill="#C4C4C4"/>
<text x="261.5" y="2746.12" text-anchor="end" font-family="Liberation Serif, serif" font-size="48" fill="#1E1E1E">60</text>
<rect x="289.4" y="2696.05" width="11.5" height="3" fill="#C4C4C4"/>
<rect x="285.4" y="2661.99" width="15.5" height="3" fill="#C4C4C4"/>
<text x="261.5" y="2677.99" text-anchor="end" font-family="Liberation Serif, serif" font-size="48" fill="#1E1E1E">70</text>
<rect x="289.4" y="2627.93" width="11.5" height="3" fill="#C4C4C4"/>
<rect x="285.4" y="2593.86" width="15.5" height="3" fill="#C4C4C4"/>
<text x="261.5" y="2609.86" text-anchor="end" font-family="Liberation Serif, serif" font-size="48" fill="#1E1E1E">80</text>
<rect x="289.4" y="2559.8" width="11.5" height="3" fill="#C4C4C4"/>
<rect x="285.4" y="2525.73" width="15.5" height="3" fill="#C4C4C4"/>
<text x="261.5" y="2541.73" text-anchor="end" font-family="Liberation Serif, serif" font-size="48" fill="#1E1E1E">90</text>
<rect x="289.4" y="2491.66" width="11.5" height="3" fill="#C4C4C4"/>
<rect x="285.4" y="2457.6" width="15.5" height="3" fill="#C4C4C4"/>
<text x="261.5" y="2473.6" text-anchor="end" font-family="Liberation Serif, serif" font-size="48" fill="#1E1E1E">100</text>
<rect x="299.4" y="2457.6" width="3" height="865.4" fill="#C4C4C4"/>
<rect x="285.4" y="3138.9" width="1632.1" height="3" fill="#C4C4C4"/>
<rect x="703.17" y="3140.4" width="3" height="182.6" fill="#C4C4C4"/>
<rect x="1106.95" y="3140.4" width="3" height="182.6" fill="#C4C4C4"/>
<rect x="1510.72" y="3140.4" width="3" height="182.6" fill="#C4C4C4"/>
<rect x="1914.5" y="3140.4" width="3" height="182.6" fill="#C4C4C4"/>
<text transform="translate(371.2,3237.9) rotate(-80)" font-family="Liberation Serif, serif" font-size="45" fill="#1E1E1E">M1</text>
<text transform="translate(505.79,3237.9) rotate(-80)" font-family="Liberation Serif, serif" font-size="45" fill="#1E1E1E">M2</text>
<text transform="translate(640.38,3237.9) rotate(-80)" font-family="Liberation Serif, serif" font-size="45" fill="#1E1E1E">M3</text>
<text transform="translate(774.97,3237.9) rotate(-80)" font-family="Liberation Serif, serif" font-size="45" fill="#1E1E1E">M1</text>
<text transform="translate(909.56,3237.9) rotate(-80)" font-family="Liberation Serif, serif" font-size="45" fill="#1E1E1E">M2</text>
<text transform="translate(1044.15,3237.9) rotate(-80)" font-family="Liberation Serif, serif" font-size="45" fill="#1E1E1E">M3</text>
<text transform="translate(1178.75,3237.9) rotate(-80)" font-family="Liberation Serif, serif" font-size="45" fill="#1E1E1E">M1</text>
<text transform="translate(1313.34,3237.9) rotate(-80)" font-family="Liberation Serif, serif" font-size="45" fill="#1E1E1E">M2</text>
<text transform="translate(1447.93,3237.9) rotate(-80)" font-family="Liberation Serif, serif" font-size="45" fill="#1E1E1E">M3</text>
<text transform="translate(1582.52,3237.9) rotate(-80)" font-family="Liberation Serif, serif" font-size="45" fill="#1E1E1E">M1</text>
<text transform="translate(1717.11,3237.9) rotate(-80)" font-family="Liberation Serif, serif" font-size="45" fill="#1E1E1E">M2</text>
<text transform="translate(1851.7,3237.9) rotate(-80)" font-family="Liberation Serif, serif" font-size="45" fill="#1E1E1E">M3</text>
<text x="502.79" y="3312.3" text-anchor="middle" font-family="Liberation Serif, serif" font-size="48" fill="#1E1E1E">Stripe rust</text>
<text x="906.56" y="3312.3" text-anchor="middle" font-family="Liberation Serif, serif" font-size="48" fill="#1E1E1E">Leaf rust</text>
<text x="1310.34" y="3312.3" text-anchor="middle" font-family="Liberation Serif, serif" font-size="48" fill="#1E1E1E">Leaf spot</text>
<text x="1714.11" y="3312.3" text-anchor="middle" font-family="Liberation Serif, serif" font-size="48" fill="#1E1E1E">Bunt</text>
<text transform="translate(164.9,2930.2) rotate(-90)" font-family="Liberation Serif, serif" font-weight="bold" font-size="47" textLength="261.6" lengthAdjust="spacingAndGlyphs" fill="#000">Variance (%)</text>
<rect x="70" y="3450" width="1893" height="4.5" fill="#FBFBFB"/>
<rect x="659.5" y="3372.5" width="28" height="27.5" fill="#99CC00"/>
<text x="701" y="3403" font-family="Liberation Serif, serif" font-size="55" fill="#1E1E1E">E</text>
<rect x="771" y="3372.5" width="28" height="27.5" fill="#7A7A7A"/>
<text x="813" y="3403" font-family="Liberation Serif, serif" font-size="55" fill="#1E1E1E">L</text>
<rect x="882.5" y="3372.5" width="28" height="27.5" fill="#CC00FF"/>
<text x="923" y="3403" font-family="Liberation Serif, serif" font-size="55" fill="#1E1E1E">G</text>
<rect x="1001.5" y="3372.5" width="28" height="27.5" fill="#FFC000"/>
<text x="1043" y="3403" font-family="Liberation Serif, serif" font-size="55" fill="#1E1E1E">GE</text>
<rect x="1154" y="3372.5" width="28" height="27.5" fill="#0099FF"/>
<text x="1194.5" y="3403" font-family="Liberation Serif, serif" font-size="55" fill="#1E1E1E">Residual</text>
</svg></body></html>
